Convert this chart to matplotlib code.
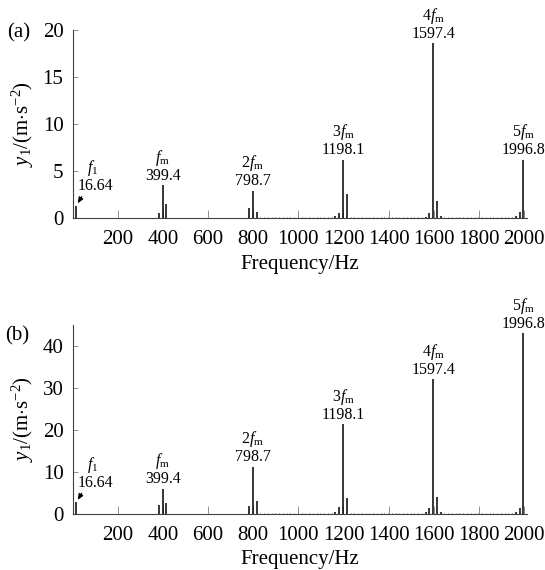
import matplotlib
matplotlib.use("Agg")
import matplotlib.pyplot as plt

plt.rcParams['font.family'] = ['Liberation Serif', 'DejaVu Serif']
plt.rcParams['mathtext.fontset'] = 'custom'
plt.rcParams['mathtext.rm'] = 'Liberation Serif'
plt.rcParams['mathtext.it'] = 'Liberation Serif:italic'
plt.rcParams['mathtext.bf'] = 'Liberation Serif:bold'

# ---------------- data ----------------
f1 = 16.64
peak_freqs = [16.64, 399.4, 798.7, 1198.1, 1597.4, 1996.8]
peak_names = ['$f_1$', '$f_\\mathrm{m}$', '$2f_\\mathrm{m}$', '$3f_\\mathrm{m}$',
              '$4f_\\mathrm{m}$', '$5f_\\mathrm{m}$']
peak_texts = ['16.64', '399.4', '798.7', '1198.1', '1597.4', '1996.8']

# panel (a): main peaks + sidebands
freq_a = [16.64, 382.8, 399.4, 416.0, 782.1, 798.7, 815.3,
          1164.8, 1181.5, 1198.1, 1214.7, 1564.1, 1580.8, 1597.4, 1614.0, 1630.7,
          1963.5, 1980.2, 1996.8]
amp_a = [1.35, 0.56, 3.5, 1.55, 1.1, 2.9, 0.7,
         0.2, 0.56, 6.2, 2.6, 0.15, 0.6, 18.6, 1.84, 0.2,
         0.2, 0.67, 6.24]
peak_amp_a = [1.35, 3.5, 2.9, 6.2, 18.6, 6.24]

# panel (b)
freq_b = [16.64, 382.8, 399.4, 416.0, 782.1, 798.7, 815.3,
          1164.8, 1181.5, 1198.1, 1214.7, 1564.1, 1580.8, 1597.4, 1614.0, 1630.7,
          1963.5, 1980.2, 1996.8]
amp_b = [2.8, 2.1, 6.0, 2.7, 1.9, 11.3, 3.2,
         0.4, 1.7, 21.4, 3.7, 0.4, 1.35, 32.1, 4.1, 0.5,
         0.5, 1.5, 43.0]
peak_amp_b = [2.8, 6.0, 11.3, 21.4, 32.1, 43.0]

# low-level background lines
noise_freq = [832.0, 848.6, 865.3, 881.9, 898.6, 915.2, 931.8, 948.5, 965.1, 981.8,
              998.4, 1015.0, 1031.7, 1048.3, 1065.0, 1081.6, 1098.2, 1114.9, 1131.5, 1148.2,
              1231.4, 1248.0, 1264.6, 1281.3, 1297.9, 1314.6, 1331.2, 1347.8, 1364.5, 1381.1,
              1397.8, 1414.4, 1431.0, 1447.7, 1464.3, 1481.0, 1497.6, 1514.2, 1530.9, 1547.5,
              1647.4, 1664.0, 1680.6, 1697.3, 1713.9, 1730.6, 1747.2, 1763.8, 1780.5,
              1797.1, 1813.8, 1830.4, 1847.0, 1863.7, 1880.3, 1897.0, 1913.6, 1930.2, 1946.9]
noise_amp_a = 0.12
noise_amp_b = 0.28

xticks = [200, 400, 600, 800, 1000, 1200, 1400, 1600, 1800, 2000]
yticks_a = [0, 5, 10, 15, 20]
yticks_b = [0, 10, 20, 30, 40]

# ---------------- figure ----------------
W, H = 545, 570
fig = plt.figure(figsize=(W / 100, H / 100), dpi=100)

def px_axes(left, top, right, bottom):
    return fig.add_axes([left / W, 1 - bottom / H, (right - left) / W, (bottom - top) / H])

FS = 15
AFS = 11.5

def draw(ax, freq, amp, noise_amp, peak_amp, ylim, yticks, panel, panel_xy):
    ax.vlines(noise_freq, 0, noise_amp, colors='0.35', linewidth=0.7)
    ax.vlines(freq, 0, amp, colors='black', linewidth=1.1)
    ax.set_xlim(0, 2013)
    ax.set_ylim(*ylim)
    ax.set_xticks(xticks)
    ax.set_yticks(yticks)
    for s in ['top', 'right']:
        ax.spines[s].set_visible(False)
    for s in ['left', 'bottom']:
        ax.spines[s].set_linewidth(0.8)
        ax.spines[s].set_color('0.25')
    ax.tick_params(axis='x', direction='in', length=6, width=0.6, color='0.5',
                   labelsize=FS, pad=8.5)
    ax.tick_params(axis='y', direction='in', length=3.5, width=0.6, color='0.5',
                   labelsize=FS, pad=6.5)
    ax.set_xlabel('Frequency/Hz', fontsize=FS, labelpad=4)
    ax.set_ylabel('$y_1$/(m$\\cdot$s$^{-2}$)', fontsize=FS, labelpad=5)
    fig.text(panel_xy[0] / W, 1 - panel_xy[1] / H, panel, fontsize=FS,
             ha='left', va='center')
    # annotations
    for i, (fx, a) in enumerate(zip(peak_freqs, peak_amp)):
        if i == 0:
            ax.annotate(peak_texts[i], xy=(fx, a), xytext=(13.5, 11),
                        textcoords='offset points', ha='center', va='baseline',
                        fontsize=AFS)
            ax.annotate(peak_names[i], xy=(fx, a), xytext=(12, 24),
                        textcoords='offset points', ha='center', va='baseline',
                        fontsize=AFS)
            ax.annotate('', xy=(fx, a), xytext=(4, 6.5), textcoords='offset points',
                        arrowprops=dict(arrowstyle='-|>,head_length=0.35,head_width=0.15',
                                        color='black', lw=0.8, shrinkA=0, shrinkB=2))
        else:
            ax.annotate(peak_texts[i], xy=(fx, a), xytext=(0, 4),
                        textcoords='offset points', ha='center', va='baseline',
                        fontsize=AFS)
            ax.annotate(peak_names[i], xy=(fx, a), xytext=(0, 17),
                        textcoords='offset points', ha='center', va='baseline',
                        fontsize=AFS)

ax1 = px_axes(72.5, 30, 527, 218.3)
draw(ax1, freq_a, amp_a, noise_amp_a, peak_amp_a, (0, 20), yticks_a, '(a)', (7, 33))

ax2 = px_axes(72.5, 325, 527, 514)
draw(ax2, freq_b, amp_b, noise_amp_b, peak_amp_b, (0, 45), yticks_b, '(b)', (5, 336))

fig.savefig('out.png', dpi=100)
